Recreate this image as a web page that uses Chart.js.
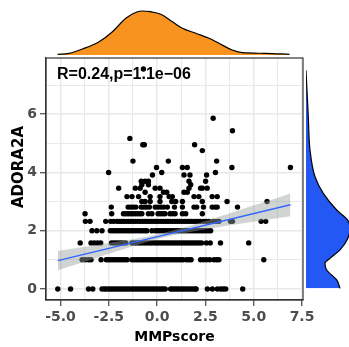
<!DOCTYPE html>
<html><head><meta charset="utf-8">
<script src="https://cdn.jsdelivr.net/npm/chart.js@4.4.0/dist/chart.umd.min.js"></script>
<style>
html,body{margin:0;padding:0;background:#fff;}
#wrap{position:relative;width:349px;height:347px;overflow:hidden;background:#fff;}
canvas{position:absolute;}
#main{left:0;top:0;}
#topd{left:0;top:0;}
#rightd{left:306px;top:0;}
</style></head><body>
<div id="wrap">
<canvas id="main" width="349" height="347"></canvas>
<canvas id="topd" width="349" height="55"></canvas>
<canvas id="rightd" width="43" height="347"></canvas>
</div>
<script>
// ---- axis text ----
const xTitle = 'MMPscore';
const yTitle = 'ADORA2A';
const corLabel = 'R=0.24,p=1.1e\u221206';
const xTickValues = [-5, -2.5, 0, 2.5, 5, 7.5];
const xTickLabels = ['-5.0', '-2.5', '0.0', '2.5', '5.0', '7.5'];
const yTickValues = [0, 2, 4, 6];
const yTickLabels = ['0', '2', '4', '6'];

// ---- scatter points: MMPscore values for each ADORA2A level ----
const adoraLevels = [0, 1, 1.58, 2, 2.32, 2.58, 2.81, 3, 3.17, 3.32, 3.46, 3.58, 3.7, 3.91, 4, 4.17, 4.39, 4.75, 4.95, 5.17, 5.43, 5.86, 7.55];
const mmpAt0 = [-5.14,-4.48,-3.55,-3.33,-2.85,-2.73,-2.62,-2.49,-2.38,-2.26,-2.13,-2.02,-1.9,-1.79,-1.67,-1.55,-1.44,-1.31,-1.2,-1.08,-0.96,-0.85,-0.73,-0.61,-0.5,-0.38,-0.26,-0.15,-0.03,0.09,0.2,0.31,0.42,0.7,0.8,0.91,1.02,1.13,1.25,1.36,1.48,1.6,1.72,1.84,1.95,2.02,2.6,2.86,3.12,3.3,3.42,3.55,4.43];
const mmpAt1 = [-3.88,-3.72,-3.55,-3.42,-2.9,-2.63,-2.51,-2.4,-2.28,-2.16,-2.04,-1.92,-1.79,-1.67,-1.55,-1.3,-1.18,-1.06,-0.94,-0.82,-0.7,-0.58,-0.46,-0.34,-0.22,-0.1,0.02,0.14,0.26,0.38,0.5,0.62,0.74,0.86,0.98,1.1,1.22,1.34,1.52,1.65,1.76,2.25,2.4,2.55,2.72,2.94,3.08,3.2,5.52];
const mmpAt158 = [-3.98,-3.42,-3.25,-3.08,-2.92,-2.36,-2.24,-2.12,-2.0,-1.88,-1.76,-1.62,-1.3,-1.18,-1.06,-0.94,-0.82,-0.7,-0.58,-0.46,-0.34,-0.22,-0.1,0.02,0.14,0.26,0.38,0.5,0.62,0.74,0.86,0.98,1.1,1.22,1.34,1.46,1.58,1.7,1.82,1.94,2.06,2.18,2.3,2.55,2.75,3.28,4.74];
const mmpAt2 = [-3.37,-3.12,-2.85,-2.42,-2.3,-2.18,-2.06,-1.94,-1.82,-1.7,-1.58,-1.46,-1.34,-1.22,-1.1,-0.98,-0.86,-0.74,-0.62,-0.53,-0.27,-0.1,0.02,0.14,0.26,0.38,0.5,0.62,0.74,0.86,0.98,1.1,1.22,1.34,1.46,1.58,1.7,1.82,1.94,2.06,2.18,2.3,2.42,2.54,2.66,2.77];
const mmpAt232 = [-3.71,-3.47,-2.66,-2.4,-2.25,-2.08,-1.96,-1.84,-1.72,-1.6,-1.48,-1.36,-1.24,-1.12,-1.0,-0.88,-0.76,-0.64,-0.52,-0.4,-0.28,-0.16,-0.04,0.08,0.2,0.32,0.44,0.56,0.68,0.8,0.92,1.04,1.16,1.28,1.4,1.52,1.64,1.76,1.88,2.0,2.12,2.25,2.4,2.55,2.68,2.9,3.05,3.2,3.8,3.9,5.38,5.62];
const mmpAt258 = [-3.73,-2.35,-1.74,-1.62,-1.5,-1.38,-1.26,-1.14,-1.02,-0.9,-0.79,-0.45,-0.27,0.05,0.17,0.29,0.41,0.67,0.8,0.93,1.31,1.48,2.34];
const mmpAt281 = [-2.37,-1.5,-1.36,-1.24,-1.1,-0.82,-0.68,-0.55,-0.4,-0.1,0.05,0.2,0.35,0.53,0.9,1.31,1.91,2.05,2.4,2.85,3.0,3.11,4.16];
const mmpAt3 = [-0.79,-0.62,-0.36,0.15,0.76,0.96,1.31,2.34,3.62,5.69];
const mmpAt317 = [-1.56,-1.3,-0.96,-0.36,0.15,0.62,0.79,1.91,2.16,2.85,3.11];
const mmpAt332 = [-0.62,0.33,0.5,1.39,1.56];
const mmpAt346 = [-1.99,-1.13,-0.88,-0.1,0.15,1.65,2.25,2.34,2.59];
const mmpAt358 = [-0.79,-0.45,1.74];
const mmpAt37 = [-0.82,-0.62,-0.45,1.65,2.51];
const mmpAt391 = [-0.24,1.39,1.7,2.56];
const mmpAt4 = [-2.51,0.24,3.02];
const mmpAt417 = [-0.03,1.31,1.56,3.87,6.9];
const mmpAt439 = [-1.25,0.58,3.08];
const mmpAt475 = [2.34];
const mmpAt495 = [-0.74,-0.66,1.94];
const mmpAt517 = [-1.41];
const mmpAt543 = [3.9];
const mmpAt586 = [2.9];
const mmpAt755 = [-0.71];
const mmpRows = [mmpAt0, mmpAt1, mmpAt158, mmpAt2, mmpAt232, mmpAt258, mmpAt281, mmpAt3, mmpAt317, mmpAt332, mmpAt346, mmpAt358, mmpAt37, mmpAt391, mmpAt4, mmpAt417, mmpAt439, mmpAt475, mmpAt495, mmpAt517, mmpAt543, mmpAt586, mmpAt755];

// ---- linear fit and its confidence band ----
const fitX = [-5.14, 6.9];
const fitY = [0.97, 2.89];
const bandX = [-5.14, -4, -3, -2, -1, 0, 1, 2, 3, 4, 5, 6, 6.9];
const bandLow = [0.64, 0.88, 1.10, 1.31, 1.52, 1.71, 1.86, 1.99, 2.10, 2.21, 2.31, 2.41, 2.50];
const bandHigh = [1.30, 1.42, 1.52, 1.63, 1.74, 1.87, 2.04, 2.23, 2.44, 2.65, 2.87, 3.08, 3.28];

// ---- marginal densities (heights in px-like units) ----
const topDensX = [-5.15, -4.55, -3.86, -3.0, -2.31, -1.62, -1.02, -0.76, -0.35, 0.19, 0.79, 1.31, 2.0, 2.69, 3.2, 3.89, 4.41, 5.61, 6.85];
const topDensH = [0.7, 1.7, 6, 13.3, 23.3, 36.7, 43.3, 44, 43.3, 40.7, 33.3, 26.7, 21.7, 16.7, 11.7, 5, 2.3, 1.7, 0.7];
const rightDensY = [7.51, 6.8, 5.91, 4.77, 3.85, 3.28, 2.71, 2.37, 2.05, 1.68, 1.34, 1.05, 0.88, 0.65, 0.31, 0.02];
const rightDensW = [0, 1, 2.3, 4, 9, 17.3, 30.7, 41.5, 44, 41, 34, 24, 19, 20.7, 30.7, 34];

// ---- build ----
const points = [];
mmpRows.forEach((row, i) => row.forEach(x => points.push({x: x, y: adoraLevels[i]})));
const xy = (xs, ys) => xs.map((x, i) => ({x: x, y: ys[i]}));

const gridCol = '#E6EAEA';
const near = (arr, v) => arr.findIndex(t => Math.abs(t - v) < 1e-6);
const tickFont = {family: 'DejaVu Sans', weight: 'bold', size: 14};

const panelBorder = {
  id: 'panelBorder',
  afterDraw(chart) {
    const {ctx, chartArea: a} = chart;
    ctx.save();
    ctx.strokeStyle = '#333333';
    ctx.lineWidth = 1.2;
    ctx.strokeRect(a.left, a.top, a.right - a.left, a.bottom - a.top);
    ctx.restore();
  }
};
const corText = {
  id: 'corText',
  afterDatasetsDraw(chart) {
    const {ctx, chartArea: a} = chart;
    ctx.save();
    ctx.font = 'bold 16px "Liberation Sans"';
    ctx.fillStyle = '#000';
    ctx.textAlign = 'left';
    ctx.textBaseline = 'alphabetic';
    ctx.fillText(corLabel, a.left + 11, a.top + 20.5);
    ctx.restore();
  }
};
const yTitleText = {
  id: 'yTitleText',
  afterDraw(chart) {
    const {ctx} = chart;
    ctx.save();
    ctx.translate(19, 167);
    ctx.rotate(-Math.PI / 2);
    ctx.font = 'bold 15px "DejaVu Sans"';
    ctx.fillStyle = '#000';
    ctx.textAlign = 'center';
    ctx.textBaseline = 'middle';
    ctx.fillText(yTitle, 0, 0);
    ctx.restore();
  }
};

new Chart(document.getElementById('main'), {
  type: 'scatter',
  data: {
    datasets: [
      {label: 'samples', data: points, pointRadius: 2.7, pointHoverRadius: 2.7, backgroundColor: '#000', borderWidth: 0, order: 3},
      {type: 'line', label: 'ciLow', data: xy(bandX, bandLow), borderWidth: 0, borderColor: 'rgba(0,0,0,0)', pointRadius: 0, fill: false, tension: 0.4, order: 2},
      {type: 'line', label: 'ciHigh', data: xy(bandX, bandHigh), borderWidth: 0, borderColor: 'rgba(0,0,0,0)', pointRadius: 0, fill: '-1', backgroundColor: 'rgba(150,160,158,0.45)', tension: 0.4, order: 2},
      {type: 'line', label: 'fit', data: xy(fitX, fitY), borderColor: '#3366FF', borderWidth: 1.4, pointRadius: 0, fill: false, order: 1}
    ]
  },
  options: {
    responsive: false, animation: false, devicePixelRatio: 1,
    layout: {padding: {top: 58, right: 46, left: 0, bottom: 0}},
    plugins: {legend: {display: false}, tooltip: {enabled: false}},
    scales: {
      x: {
        type: 'linear', min: -5.75, max: 7.55,
        afterFit: s => { s.height = 47; },
        ticks: {stepSize: 1.25, includeBounds: false, autoSkip: false, maxRotation: 0, minRotation: 0,
          color: '#4D4D4D', font: tickFont, padding: 3,
          callback: v => { const i = near(xTickValues, v); return i >= 0 ? xTickLabels[i] : ''; }},
        grid: {
          color: gridCol,
          lineWidth: c => (c.tick && near(xTickValues, c.tick.value) >= 0) ? 1.5 : 1.1,
          tickLength: 6,
          tickColor: c => (c.tick && near(xTickValues, c.tick.value) >= 0) ? '#333333' : 'rgba(0,0,0,0)',
          tickWidth: 1.1
        },
        border: {display: true, color: '#333333', width: 1.2},
        title: {display: true, text: xTitle, color: '#000', font: {family: 'DejaVu Sans', weight: 'bold', size: 14}, padding: {top: 0, bottom: 1}}
      },
      y: {
        type: 'linear', min: -0.38, max: 7.93,
        afterFit: s => { s.width = 46; },
        ticks: {stepSize: 1, includeBounds: false, autoSkip: false,
          color: '#4D4D4D', font: tickFont, padding: 3,
          callback: v => { const i = near(yTickValues, v); return i >= 0 ? yTickLabels[i] : ''; }},
        grid: {
          color: gridCol,
          lineWidth: c => (c.tick && near(yTickValues, c.tick.value) >= 0) ? 1.5 : 1.1,
          tickLength: 6,
          tickColor: c => (c.tick && near(yTickValues, c.tick.value) >= 0) ? '#333333' : 'rgba(0,0,0,0)',
          tickWidth: 1.1
        },
        border: {display: true, color: '#333333', width: 1.2},
        title: {display: false, text: yTitle}
      }
    }
  },
  plugins: [panelBorder, corText, yTitleText]
});

new Chart(document.getElementById('topd'), {
  type: 'line',
  data: {datasets: [{label: 'MMPscore density', data: xy(topDensX, topDensH), borderColor: '#000', borderWidth: 1.2,
    backgroundColor: '#F7931E', fill: 'origin', pointRadius: 0, cubicInterpolationMode: 'monotone'}]},
  options: {
    responsive: false, animation: false, devicePixelRatio: 1,
    layout: {padding: {left: 46, right: 46, top: 0, bottom: 0}},
    plugins: {legend: {display: false}, tooltip: {enabled: false}},
    scales: {x: {type: 'linear', min: -5.75, max: 7.55, display: false}, y: {type: 'linear', min: 0, max: 55, display: false}}
  }
});

new Chart(document.getElementById('rightd'), {
  type: 'line',
  data: {datasets: [{label: 'ADORA2A density', data: xy(rightDensW, rightDensY), borderColor: '#000', borderWidth: 1.2,
    backgroundColor: '#2358F4', fill: 'origin', pointRadius: 0, cubicInterpolationMode: 'monotone'}]},
  options: {
    indexAxis: 'y',
    responsive: false, animation: false, devicePixelRatio: 1,
    layout: {padding: {left: 0, right: 0, top: 58, bottom: 47}},
    plugins: {legend: {display: false}, tooltip: {enabled: false}},
    scales: {x: {type: 'linear', min: 0, max: 43, display: false}, y: {type: 'linear', min: -0.38, max: 7.93, display: false}}
  }
});
</script>
</body></html>
